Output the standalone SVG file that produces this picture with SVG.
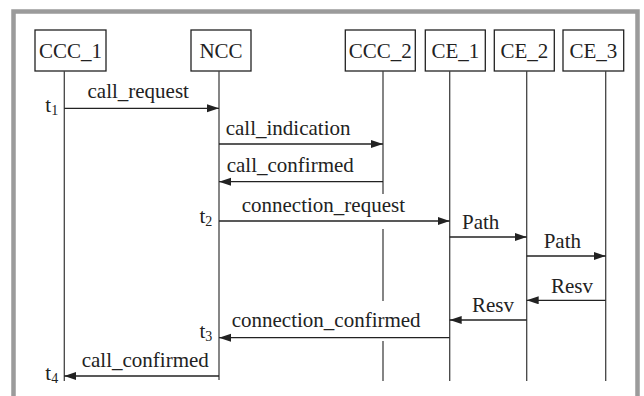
<svg xmlns="http://www.w3.org/2000/svg" width="644" height="396" viewBox="0 0 644 396">
<style>
text{font-family:"Liberation Serif","Times New Roman",serif;font-size:21px;fill:#222}
.box{fill:#fff;stroke:#222;stroke-width:1.3}
.life{stroke:#444;stroke-width:1.3;fill:none}
.msg{stroke:#222;stroke-width:1.3;fill:none;marker-end:url(#ah)}
.lbl{text-anchor:middle}
.sub{font-size:14px}
</style>
<defs>
<marker id="ah" markerUnits="userSpaceOnUse" markerWidth="13" markerHeight="9" refX="12" refY="4" orient="auto">
<path d="M0,0 L12,4 L0,8 Z" fill="#222"/>
</marker>
</defs>
<rect width="644" height="396" fill="#fff"/>
<path d="M13.5,396 V11.5 H637.5 V396" fill="none" stroke="#9b9b9b" stroke-width="4.5"/>

<g id="CCC_1">
<rect class="box" x="35" y="30" width="71" height="41"/>
<text class="lbl" x="70.5" y="58">CCC_1</text>
<line class="life" x1="64.3" y1="71" x2="64.3" y2="381"/>
</g>
<g id="NCC">
<rect class="box" x="191" y="30" width="60" height="41"/>
<text class="lbl" x="221" y="58">NCC</text>
<line class="life" x1="219" y1="71" x2="219" y2="380"/>
</g>
<g id="CCC_2">
<rect class="box" x="345.3" y="30" width="70" height="41"/>
<text class="lbl" x="380.3" y="58">CCC_2</text>
<path class="life" d="M383,71 V194 M383,229 V301 M383,341 V381"/>
</g>
<g id="CE_1">
<rect class="box" x="425.3" y="30" width="60" height="41"/>
<text class="lbl" x="455.3" y="58">CE_1</text>
<line class="life" x1="449.7" y1="71" x2="449.7" y2="381"/>
</g>
<g id="CE_2">
<rect class="box" x="494.3" y="30" width="60" height="41"/>
<text class="lbl" x="524.3" y="58">CE_2</text>
<line class="life" x1="526.7" y1="71" x2="526.7" y2="381"/>
</g>
<g id="CE_3">
<rect class="box" x="563" y="30" width="60.7" height="41"/>
<text class="lbl" x="593.3" y="58">CE_3</text>
<line class="life" x1="605.7" y1="71" x2="605.7" y2="381"/>
</g>

<g id="connectors">
<line class="msg" x1="64.3" y1="108.3" x2="219" y2="108.3"/>
<text x="87.5" y="98">call_request</text>
<line class="msg" x1="219" y1="144" x2="383" y2="144"/>
<text x="225.7" y="135">call_indication</text>
<line class="msg" x1="383" y1="181.7" x2="219" y2="181.7"/>
<text x="226.7" y="172">call_confirmed</text>
<line class="msg" x1="219" y1="221" x2="449.7" y2="221"/>
<text x="241.7" y="211.5">connection_request</text>
<line class="msg" x1="449.7" y1="237" x2="526.7" y2="237"/>
<text x="462" y="229">Path</text>
<line class="msg" x1="526.7" y1="256" x2="605.7" y2="256"/>
<text x="543.7" y="248">Path</text>
<line class="msg" x1="605.7" y1="300.3" x2="526.7" y2="300.3"/>
<text x="551" y="293">Resv</text>
<line class="msg" x1="526.7" y1="320" x2="449.7" y2="320"/>
<text x="472" y="312">Resv</text>
<line class="msg" x1="449.7" y1="337.7" x2="219" y2="337.7"/>
<text x="231.7" y="326.5">connection_confirmed</text>
<line class="msg" x1="219" y1="376" x2="64.3" y2="376"/>
<text x="81.7" y="366.5">call_confirmed</text>
</g>

<g id="times">
<text x="45.3" y="111.5">t<tspan class="sub" dy="3">1</tspan></text>
<text x="199.5" y="222.5">t<tspan class="sub" dy="3">2</tspan></text>
<text x="199.5" y="338">t<tspan class="sub" dy="3">3</tspan></text>
<text x="45.3" y="380">t<tspan class="sub" dy="3">4</tspan></text>
</g>
</svg>
